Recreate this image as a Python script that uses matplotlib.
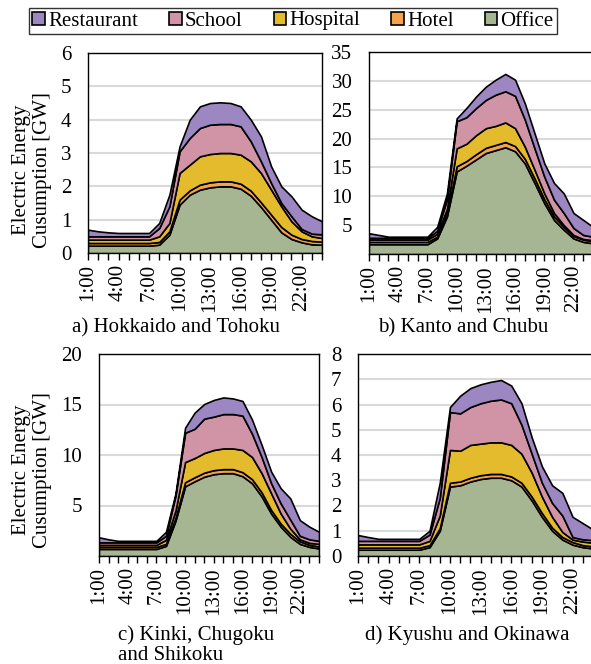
import matplotlib
matplotlib.use("Agg")
import matplotlib.pyplot as plt
import numpy as np
from matplotlib.patches import Patch

plt.rcParams['font.family'] = ['Liberation Serif', 'DejaVu Serif']
FS = 15
plt.rcParams['font.size'] = FS

hours = list(range(1, 25))
hour_labels = ["1:00", "4:00", "7:00", "10:00", "13:00", "16:00", "19:00", "22:00"]
series_names = ["Office", "Hotel", "Hospital", "School", "Restaurant"]
legend_order = ["Restaurant", "School", "Hospital", "Hotel", "Office"]
colors = {"Restaurant": "#9d87c2", "School": "#d193a6", "Hospital": "#e4bb2d",
          "Hotel": "#f4a24b", "Office": "#a6b592"}

# ---- a) Hokkaido and Tohoku ----
office_a = [0.22,0.22,0.22,0.22,0.22,0.22,0.22,0.25,0.55,1.45,1.75,1.90,1.97,2.00,2.00,1.93,1.72,1.38,1.00,0.62,0.42,0.32,0.26,0.25]
hotel_a = [0.08,0.08,0.08,0.08,0.08,0.08,0.08,0.08,0.10,0.15,0.13,0.15,0.15,0.15,0.15,0.15,0.15,0.14,0.15,0.16,0.13,0.10,0.10,0.09]
hospital_a = [0.10,0.10,0.10,0.10,0.10,0.10,0.10,0.17,0.25,0.80,0.77,0.85,0.85,0.85,0.85,0.87,0.88,0.88,0.75,0.62,0.40,0.23,0.14,0.11]
school_a = [0.10,0.10,0.10,0.10,0.10,0.10,0.10,0.25,0.50,0.65,0.80,0.85,0.88,0.87,0.87,0.85,0.60,0.35,0.20,0.10,0.15,0.07,0.08,0.11]
restaurant_a = [0.20,0.15,0.12,0.10,0.10,0.10,0.10,0.15,0.35,0.15,0.55,0.65,0.65,0.65,0.63,0.60,0.65,0.75,0.50,0.50,0.60,0.58,0.52,0.39]

# ---- b) Kanto and Chubu ----
office_b = [1.7,1.7,1.7,1.7,1.7,1.7,1.7,2.7,6.5,14.3,15.3,16.4,17.5,18.0,18.5,17.8,15.7,12.3,8.8,5.9,4.2,2.7,2.1,1.85]
hotel_b = [0.4,0.4,0.4,0.4,0.4,0.4,0.4,0.3,0.5,0.9,0.8,0.9,0.9,0.9,0.9,0.9,0.8,0.8,0.7,0.6,0.5,0.4,0.4,0.35]
hospital_b = [0.4,0.4,0.4,0.4,0.4,0.4,0.4,0.5,0.8,3.1,3.0,3.3,3.4,3.3,3.4,3.1,2.1,1.5,1.0,0.6,0.3,0.2,0.1,0.2]
school_b = [0.3,0.3,0.3,0.3,0.3,0.3,0.3,0.5,1.7,4.7,4.6,4.7,4.9,5.4,5.4,5.6,4.7,3.7,2.9,2.3,2.1,1.2,0.7,0.6]
restaurant_b = [0.8,0.5,0.2,0.2,0.2,0.2,0.2,0.7,1.0,0.5,1.6,2.0,2.3,2.6,3.0,2.8,2.8,2.6,2.3,2.9,3.4,2.6,2.6,1.7]

# ---- c) Kinki, Chugoku and Shikoku ----
office_c = [0.7,0.7,0.7,0.7,0.7,0.7,0.7,1.0,3.5,6.9,7.4,7.85,8.1,8.2,8.2,7.9,7.2,5.9,4.2,2.9,1.9,1.2,0.9,0.75]
hotel_c = [0.2,0.2,0.2,0.2,0.2,0.2,0.2,0.2,0.3,0.4,0.4,0.4,0.4,0.4,0.4,0.4,0.4,0.4,0.35,0.3,0.3,0.25,0.2,0.2]
hospital_c = [0.2,0.2,0.2,0.2,0.2,0.2,0.2,0.4,0.7,2.0,1.9,1.95,2.0,2.05,2.05,2.2,2.2,1.9,1.65,1.0,0.5,0.2,0.2,0.25]
school_c = [0.25,0.25,0.25,0.25,0.25,0.25,0.25,0.4,1.5,2.9,2.9,3.4,3.3,3.4,3.4,3.4,2.3,1.6,1.0,1.0,0.9,0.35,0.35,0.3]
restaurant_c = [0.5,0.3,0.15,0.15,0.15,0.15,0.15,0.4,0.2,0.5,1.6,1.45,1.65,1.65,1.55,1.45,1.4,1.2,1.15,1.5,2.1,1.55,1.25,0.9]

# ---- d) Kyushu and Okinawa ----
office_d = [0.25,0.25,0.25,0.25,0.25,0.25,0.25,0.35,1.0,2.75,2.8,2.95,3.05,3.1,3.1,3.0,2.75,2.2,1.55,1.0,0.65,0.45,0.35,0.3]
hotel_d = [0.08,0.08,0.08,0.08,0.08,0.08,0.08,0.08,0.1,0.15,0.15,0.15,0.15,0.15,0.15,0.15,0.15,0.15,0.15,0.12,0.1,0.1,0.08,0.08]
hospital_d = [0.13,0.13,0.13,0.13,0.13,0.13,0.13,0.17,0.5,1.3,1.22,1.3,1.25,1.25,1.25,1.25,1.15,0.95,0.65,0.43,0.2,0.1,0.14,0.15]
school_d = [0.14,0.14,0.14,0.14,0.14,0.14,0.14,0.25,0.7,1.5,1.48,1.5,1.6,1.65,1.7,1.65,1.15,0.75,0.55,0.55,0.65,0.1,0.09,0.1]
restaurant_d = [0.23,0.15,0.08,0.08,0.08,0.08,0.08,0.15,0.6,0.2,0.7,0.75,0.75,0.75,0.77,0.7,0.85,0.65,0.65,0.7,0.9,0.8,0.64,0.42]

panels = [
    dict(data=[office_a, hotel_a, hospital_a, school_a, restaurant_a], ylim=6, step=1, show_zero=True,
         rect=(88, 53, 322, 253), title="a) Hokkaido and Tohoku", tpos=(176, 328), ha="center"),
    dict(data=[office_b, hotel_b, hospital_b, school_b, restaurant_b], ylim=35, step=5, show_zero=False,
         rect=(369, 52, 593, 254), title="b) Kanto and Chubu", tpos=(463, 328), ha="center"),
    dict(data=[office_c, hotel_c, hospital_c, school_c, restaurant_c], ylim=20, step=5, show_zero=False,
         rect=(99, 354, 319, 556), title="c) Kinki, Chugoku\nand Shikoku", tpos=(118, 645), ha="left"),
    dict(data=[office_d, hotel_d, hospital_d, school_d, restaurant_d], ylim=8, step=1, show_zero=True,
         rect=(358, 354, 593, 556), title="d) Kyushu and Okinawa", tpos=(467, 635), ha="center"),
]

W, H = 591, 664
fig = plt.figure(figsize=(W / 100, H / 100), dpi=100)

for p in panels:
    l, t, r, b = p["rect"]
    ax = fig.add_axes([l / W, 1 - b / H, (r - l) / W, (b - t) / H])
    ax.stackplot(hours, *p["data"], colors=[colors[n] for n in series_names],
                 edgecolor="black", linewidth=1.2, zorder=3)
    ax.set_xlim(1, 24)
    ax.set_ylim(0, p["ylim"])
    yt = np.arange(0, p["ylim"] + 0.001, p["step"])
    ax.set_yticks(yt)
    ax.set_yticklabels([("%g" % v) if (v != 0 or p["show_zero"]) else "" for v in yt])
    ax.yaxis.grid(True, color="#d9d9d9", linewidth=1.5, zorder=0)
    ax.set_axisbelow(True)
    ax.set_xticks(hours)
    ax.set_xticklabels([f"{h}:00" if (h - 1) % 3 == 0 else "" for h in hours], rotation=90)
    ax.tick_params(axis="y", length=0, pad=12, labelsize=FS)
    ax.tick_params(axis="x", length=5, width=1, direction="out", pad=3, labelsize=FS)
    for s in ax.spines.values():
        s.set_linewidth(1.0)
        s.set_color("black")
    tx, ty = p["tpos"]
    fig.text(tx / W, 1 - ty / H, p["title"], ha=p["ha"], va="center", fontsize=FS,
             linespacing=1.05)

for cy in (170, 470):
    fig.text(32 / W, 1 - cy / H, "Electric Energy\nCusumption [GW]", rotation=90,
             ha="center", va="center", fontsize=FS, linespacing=1.1)

handles = [Patch(facecolor=colors[n], edgecolor="black", linewidth=1.2, label=n) for n in legend_order]
leg = fig.legend(handles=handles, loc="center", bbox_to_anchor=(293 / W, 1 - 21 / H), ncol=5,
                 frameon=True, fancybox=False, edgecolor="black", fontsize=FS,
                 handlelength=0.6, handleheight=0.6, handletextpad=0.15, columnspacing=1.5,
                 borderpad=0.15)
leg.get_frame().set_linewidth(1.0)

fig.savefig("out.png", dpi=100)
